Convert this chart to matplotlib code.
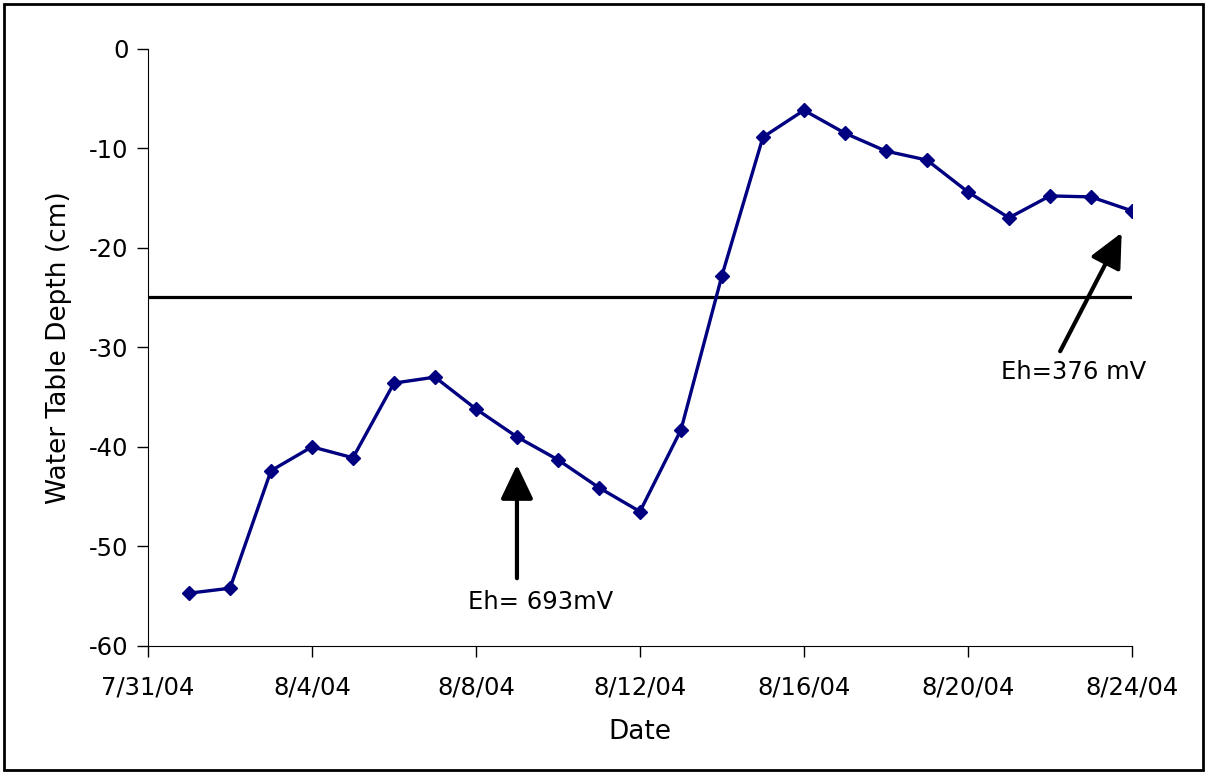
from datetime import datetime, timedelta

import matplotlib

matplotlib.use("Agg")
import matplotlib.dates as mdates
import matplotlib.pyplot as plt
from matplotlib.patches import Rectangle

# Daily water table readings, 8/1/04 - 8/24/04
dates = [datetime(2004, 8, 1) + timedelta(days=i) for i in range(24)]
depth_cm = [
    -54.7, -54.2, -42.4, -40.0, -41.1, -33.6, -33.0, -36.2,
    -39.0, -41.3, -44.1, -46.5, -38.3, -22.8, -8.9, -6.2,
    -8.5, -10.3, -11.2, -14.4, -17.0, -14.8, -14.9, -16.3,
]

threshold_cm = -25
x_start = datetime(2004, 7, 31)
x_end = datetime(2004, 8, 24)

# Eh annotations: (label, text position, arrow tail, arrow tip)
eh_notes = [
    ("Eh= 693mV",
     (datetime(2004, 8, 9, 14), -56.3),
     (datetime(2004, 8, 9), -53.2),
     (datetime(2004, 8, 9), -41.8)),
    ("Eh=376 mV",
     (datetime(2004, 8, 22, 14), -33.2),
     (datetime(2004, 8, 22, 6), -30.4),
     (datetime(2004, 8, 23, 18), -18.5)),
]


def date_label(value, pos=None):
    d = mdates.num2date(value)
    return f"{d.month}/{d.day}/{d:%y}"


def main():
    plt.rcParams["font.family"] = "DejaVu Sans"
    plt.rcParams["axes.unicode_minus"] = False
    fig = plt.figure(figsize=(12.07, 7.74), dpi=100)
    ax = fig.add_axes([0.1226, 0.1654, 0.8152, 0.7719])

    ax.plot(
        [x_start, x_end], [threshold_cm, threshold_cm],
        color="black", linewidth=2.3, solid_capstyle="butt",
    )
    ax.plot(
        dates, depth_cm, color="#000080", linewidth=2.4,
        marker="D", markersize=7, markerfacecolor="#000080",
        markeredgecolor="#000080",
    )

    for label, text_xy, tail, tip in eh_notes:
        ax.annotate(
            "", xy=tip, xytext=tail,
            arrowprops=dict(
                arrowstyle="-|>,head_length=1.05,head_width=0.5",
                color="black", linewidth=3, mutation_scale=20,
                shrinkA=0, shrinkB=0,
            ),
        )
        ax.text(text_xy[0], text_xy[1], label, fontsize=17.5,
                ha="center", va="baseline")

    ax.set_xlim(x_start, x_end)
    ax.set_ylim(-60, 0)
    ax.set_yticks(range(-60, 1, 10))
    ax.xaxis.set_major_locator(mdates.DayLocator(bymonthday=[31, 4, 8, 12, 16, 20, 24]))
    ax.xaxis.set_major_formatter(plt.FuncFormatter(date_label))

    ax.spines["top"].set_visible(False)
    ax.spines["right"].set_visible(False)
    ax.tick_params(axis="both", direction="out", length=8, width=1,
                   labelsize=17.5, color="black")
    ax.tick_params(axis="x", pad=13)
    ax.tick_params(axis="y", pad=6)

    ax.set_xlabel("Date", fontsize=19, labelpad=14)
    ax.set_ylabel("Water Table Depth (cm)", fontsize=19, labelpad=12)

    # frame around the whole figure
    fig.patches.append(Rectangle(
        (4 / 1207, 4 / 774), 1199 / 1207, 766 / 774,
        transform=fig.transFigure, fill=False,
        edgecolor="black", linewidth=2,
    ))

    fig.savefig("out.png", dpi=100)


if __name__ == "__main__":
    main()
